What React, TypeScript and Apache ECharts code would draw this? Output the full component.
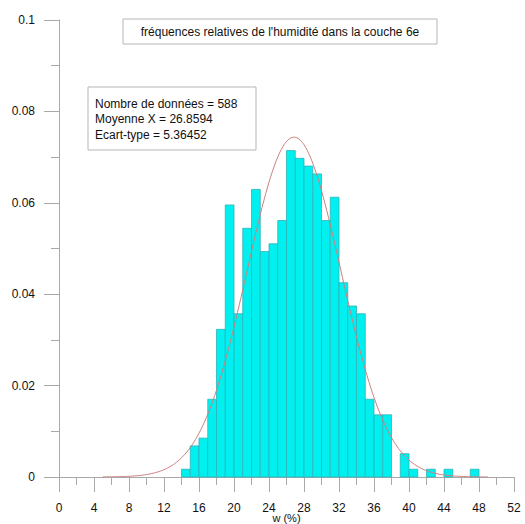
import { useEffect, useRef } from "react";
import * as echarts from "echarts";

// Histogram of moisture content w (%) in layer 6e, bins of width 1
const binLeft = [
  14, 15, 16, 17, 18, 19, 20, 21, 22, 23, 24, 25, 26, 27, 28, 29, 30,
  31, 32, 33, 34, 35, 36, 37, 38, 39, 40, 41, 42, 43, 44, 45, 46, 47,
];
const binCounts = [
  1, 4, 5, 10, 19, 35, 21, 32, 37, 29, 30, 33, 42, 41, 40, 39, 33,
  36, 25, 22, 21, 10, 8, 8, 0, 3, 1, 0, 1, 0, 1, 0, 0, 1,
];
const binWidth = 1;

// Summary statistics shown in the info box
const sampleSize = 588;
const meanX = 26.8594;
const stdDev = 5.36452;

const titleText = "fréquences relatives de l'humidité dans la couche 6e";
const statLines = [
  `Nombre de données = ${sampleSize}`,
  `Moyenne X = ${meanX}`,
  `Ecart-type = ${stdDev}`,
];

const FONT = "'Liberation Sans', Arial, Helvetica, sans-serif";
const AXIS_GREY = "#a9a9a9";
const WIDTH = 525;
const HEIGHT = 524;

export default function App() {
  const ref = useRef<HTMLDivElement>(null);

  useEffect(() => {
    if (!ref.current) return;
    const chart = echarts.init(ref.current, null, {
      renderer: "svg",
      width: WIDTH,
      height: HEIGHT,
    });

    const bars = binLeft
      .map((left, i) => [left, left + binWidth, binCounts[i] / sampleSize])
      .filter((d) => d[2] > 0);

    // Fitted normal density (scaled by bin width) from the stated mean and std
    const curve: number[][] = [];
    const norm = 1 / (stdDev * Math.sqrt(2 * Math.PI));
    for (let x = 5; x <= 49.001; x += 0.2) {
      const z = (x - meanX) / stdDev;
      curve.push([x, binWidth * norm * Math.exp(-0.5 * z * z)]);
    }

    chart.setOption({
      animation: false,
      grid: {
        left: 59,
        right: 11,
        top: 20,
        bottom: 47,
        containLabel: false,
        outerBoundsMode: "none",
      },
      xAxis: {
        type: "value",
        min: 0,
        max: 52,
        interval: 4,
        name: "w (%)",
        nameLocation: "middle",
        nameGap: 35,
        nameMoveOverlap: false,
        nameTextStyle: { fontFamily: FONT, fontSize: 11, color: "#111" },
        axisLine: { show: true, onZero: false, lineStyle: { color: AXIS_GREY, width: 1 } },
        axisTick: { show: true, length: 15, lineStyle: { color: AXIS_GREY } },
        minorTick: { show: true, splitNumber: 2, length: 8, lineStyle: { color: AXIS_GREY } },
        splitLine: { show: false },
        axisLabel: { margin: 25, fontFamily: FONT, fontSize: 12, color: "#111" },
      },
      yAxis: {
        type: "value",
        min: 0,
        max: 0.1,
        interval: 0.02,
        axisLine: { show: true, onZero: false, lineStyle: { color: AXIS_GREY, width: 1 } },
        axisTick: { show: true, length: 15, lineStyle: { color: AXIS_GREY } },
        minorTick: { show: true, splitNumber: 2, length: 8, lineStyle: { color: AXIS_GREY } },
        splitLine: { show: false },
        axisLabel: { margin: 24, fontFamily: FONT, fontSize: 12, color: "#111" },
      },
      series: [
        {
          type: "custom",
          data: bars,
          encode: { x: [0, 1], y: 2 },
          z: 2,
          renderItem: (_params: any, api: any) => {
            const topLeft = api.coord([api.value(0), api.value(2)]);
            const bottomRight = api.coord([api.value(1), 0]);
            return {
              type: "rect",
              shape: {
                x: topLeft[0],
                y: topLeft[1],
                width: bottomRight[0] - topLeft[0],
                height: bottomRight[1] - topLeft[1],
              },
              style: { fill: "#00f0f0", stroke: "#2fb3b8", lineWidth: 0.8 },
            };
          },
        },
        {
          type: "line",
          data: curve,
          showSymbol: false,
          smooth: false,
          z: 3,
          lineStyle: { color: "#cc8080", width: 1 },
        },
      ],
      graphic: [
        {
          type: "rect",
          shape: { x: 123, y: 19, width: 314, height: 25 },
          style: { fill: "#fff", stroke: "#b5b5b5", lineWidth: 1 },
          z: 10,
        },
        {
          type: "text",
          x: 280,
          y: 32,
          style: {
            text: titleText,
            fontFamily: FONT,
            fontSize: 12,
            fill: "#111",
            textAlign: "center",
            textVerticalAlign: "middle",
          },
          z: 11,
        },
        {
          type: "rect",
          shape: { x: 88, y: 87, width: 168, height: 63 },
          style: { fill: "#fff", stroke: "#b5b5b5", lineWidth: 1 },
          z: 10,
        },
        {
          type: "text",
          x: 95,
          y: 96,
          style: {
            text: statLines.join("\n"),
            fontFamily: FONT,
            fontSize: 12,
            lineHeight: 15.5,
            fill: "#111",
            textAlign: "left",
            textVerticalAlign: "top",
          },
          z: 11,
        },
      ],
    });

    return () => chart.dispose();
  }, []);

  return (
    <div
      ref={ref}
      style={{ position: "fixed", left: 0, top: 0, width: WIDTH, height: HEIGHT, background: "#fff" }}
    />
  );
}
